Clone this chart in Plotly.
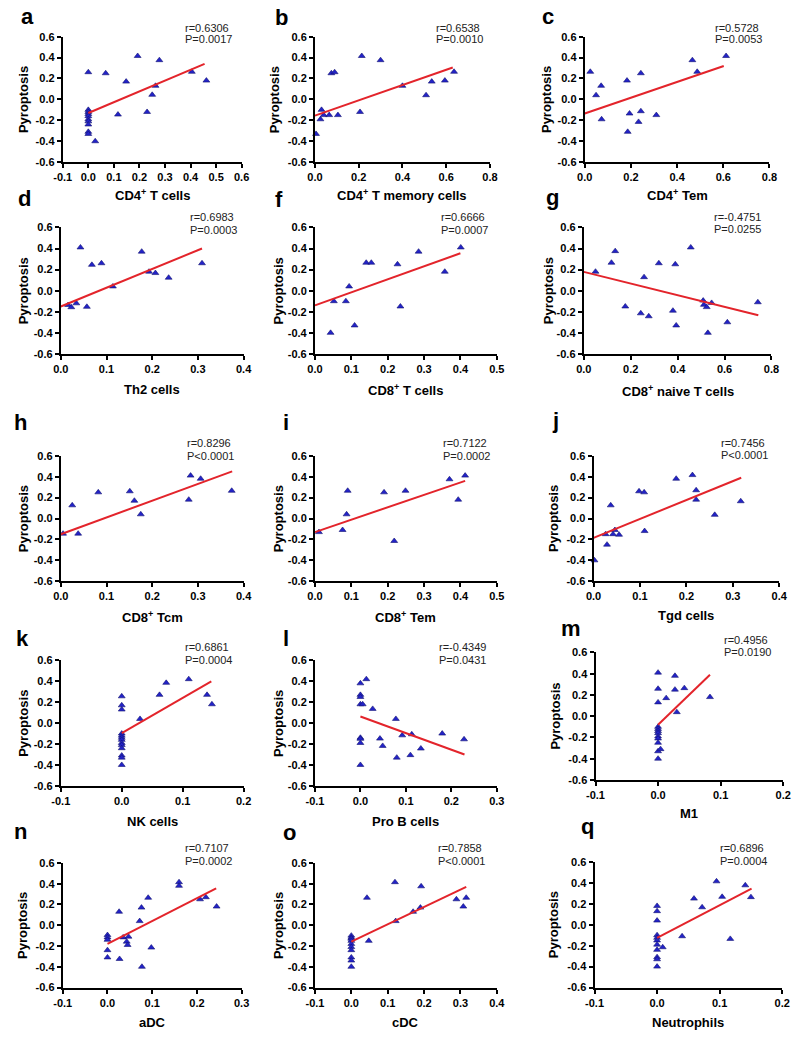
import plotly.graph_objects as go

W, H = 800, 1038
FONT = "Liberation Sans, Arial, sans-serif"
BLUE = "#2323c8"
NAVY = "#121270"
RED = "#e3242b"

# ---------------- data ----------------
Y_TICKS = [-0.6, -0.4, -0.2, 0.0, 0.2, 0.4, 0.6]
Y_TICKTEXT = ["-0.6", "-0.4", "-0.2", "0.0", "0.2", "0.4", "0.6"]

XT_A = [-0.1, 0.0, 0.1, 0.2, 0.3, 0.4, 0.5, 0.6]
XL_A = ["-0.1", "0.0", "0.1", "0.2", "0.3", "0.4", "0.5", "0.6"]
XT_08 = [0.0, 0.2, 0.4, 0.6, 0.8]
XL_08 = ["0.0", "0.2", "0.4", "0.6", "0.8"]
XT_04 = [0.0, 0.1, 0.2, 0.3, 0.4]
XL_04 = ["0.0", "0.1", "0.2", "0.3", "0.4"]
XT_05 = [0.0, 0.1, 0.2, 0.3, 0.4, 0.5]
XL_05 = ["0.0", "0.1", "0.2", "0.3", "0.4", "0.5"]
XT_M02 = [-0.1, 0.0, 0.1, 0.2]
XL_M02 = ["-0.1", "0.0", "0.1", "0.2"]
XT_M03 = [-0.1, 0.0, 0.1, 0.2, 0.3]
XL_M03 = ["-0.1", "0.0", "0.1", "0.2", "0.3"]
XT_M04 = [-0.1, 0.0, 0.1, 0.2, 0.3, 0.4]
XL_M04 = ["-0.1", "0.0", "0.1", "0.2", "0.3", "0.4"]

a_x = [0, 0, 0, 0, 0, 0, 0, 0, 0, 0, 0.027, 0.068, 0.116, 0.148, 0.193, 0.23, 0.25, 0.263, 0.278, 0.405, 0.462]
a_y = [0.26, -0.10, -0.12, -0.14, -0.16, -0.19, -0.21, -0.24, -0.31, -0.33, -0.40, 0.25, -0.145, 0.17, 0.415, -0.12, 0.044, 0.13, 0.375, 0.264, 0.18]
a_fit_x = [0.0, 0.455]
a_fit_y = [-0.13, 0.34]

b_x = [0.005, 0.025, 0.03, 0.04, 0.065, 0.105, 0.075, 0.09, 0.206, 0.214, 0.30, 0.40, 0.508, 0.534, 0.594, 0.636]
b_y = [-0.33, -0.19, -0.10, -0.15, -0.15, -0.15, 0.25, 0.26, -0.12, 0.415, 0.375, 0.13, 0.04, 0.17, 0.18, 0.264]
b_fit_x = [0.0, 0.63]
b_fit_y = [-0.155, 0.305]

c_x = [0.024, 0.049, 0.071, 0.073, 0.183, 0.186, 0.194, 0.233, 0.243, 0.243, 0.31, 0.466, 0.487, 0.612]
c_y = [0.264, 0.04, 0.13, -0.19, 0.18, -0.31, -0.135, -0.215, -0.113, 0.25, -0.15, 0.375, 0.264, 0.415]
c_fit_x = [0.0, 0.602]
c_fit_y = [-0.135, 0.32]

d_x = [0.016, 0.023, 0.034, 0.043, 0.057, 0.068, 0.089, 0.114, 0.177, 0.193, 0.207, 0.236, 0.309]
d_y = [-0.136, -0.157, -0.12, 0.41, -0.153, 0.245, 0.26, 0.04, 0.37, 0.18, 0.167, 0.123, 0.26]
d_fit_x = [0.0, 0.309]
d_fit_y = [-0.15, 0.40]

f_x = [0.043, 0.052, 0.085, 0.094, 0.109, 0.141, 0.155, 0.227, 0.235, 0.285, 0.357, 0.401]
f_y = [-0.40, -0.10, -0.10, 0.04, -0.33, 0.265, 0.265, 0.25, -0.15, 0.37, 0.18, 0.41]
f_fit_x = [0.0, 0.40]
f_fit_y = [-0.14, 0.355]

g_x = [0.05, 0.118, 0.134, 0.177, 0.243, 0.257, 0.277, 0.32, 0.38, 0.39, 0.394, 0.456, 0.509, 0.512, 0.524, 0.545, 0.529, 0.612, 0.742]
g_y = [0.18, 0.265, 0.375, -0.15, -0.215, 0.128, -0.243, 0.26, -0.19, 0.25, -0.33, 0.41, -0.094, -0.134, -0.156, -0.116, -0.40, -0.30, -0.11]
g_fit_x = [0.0, 0.744]
g_fit_y = [0.178, -0.234]

h_x = [0.005, 0.038, 0.025, 0.082, 0.151, 0.161, 0.175, 0.28, 0.284, 0.306, 0.374]
h_y = [-0.145, -0.145, 0.126, 0.25, 0.26, 0.17, 0.04, 0.18, 0.41, 0.38, 0.265]
h_fit_x = [0.0, 0.375]
h_fit_y = [-0.15, 0.45]

i_x = [0.011, 0.076, 0.087, 0.09, 0.19, 0.218, 0.249, 0.37, 0.394, 0.413]
i_y = [-0.13, -0.11, 0.04, 0.265, 0.25, -0.215, 0.265, 0.375, 0.18, 0.41]
i_fit_x = [0.0, 0.413]
i_fit_y = [-0.13, 0.36]

j_x = [0.002, 0.026, 0.029, 0.042, 0.046, 0.055, 0.11, 0.037, 0.098, 0.109, 0.178, 0.213, 0.221, 0.221, 0.261, 0.317]
j_y = [-0.40, -0.15, -0.25, -0.15, -0.11, -0.155, -0.12, 0.126, 0.26, 0.25, 0.38, 0.415, 0.27, 0.18, 0.035, 0.165]
j_fit_x = [0.0, 0.318]
j_fit_y = [-0.185, 0.39]

k_x = [0, 0, 0, 0, 0, 0, 0, 0, 0, 0, 0, 0, 0, 0.03, 0.062, 0.073, 0.11, 0.14, 0.148]
k_y = [0.256, 0.17, 0.13, -0.10, -0.12, -0.14, -0.16, -0.19, -0.21, -0.24, -0.31, -0.33, -0.40, 0.04, 0.27, 0.385, 0.42, 0.27, 0.18]
k_fit_x = [0.0, 0.147]
k_fit_y = [-0.095, 0.40]

l_x = [0, 0, 0, 0, 0.005, 0.013, 0.027, 0, 0, 0, 0, 0.043, 0.049, 0.078, 0.08, 0.092, 0.113, 0.11, 0.133, 0.18, 0.228]
l_y = [0.38, 0.27, 0.25, 0.18, 0.18, 0.42, 0.136, -0.14, -0.15, -0.19, -0.40, -0.148, -0.218, 0.04, -0.33, -0.117, -0.107, -0.306, -0.243, -0.10, -0.155]
l_fit_x = [0.0, 0.229]
l_fit_y = [0.063, -0.30]

m_x = [0, 0.027, 0, 0, 0.013, 0.027, 0.042, 0.03, 0.083, 0, 0, 0, 0, 0, 0, 0, 0, 0, 0.004]
m_y = [0.41, 0.38, 0.258, 0.13, 0.17, 0.25, 0.264, 0.038, 0.18, -0.10, -0.12, -0.14, -0.16, -0.19, -0.21, -0.25, -0.33, -0.40, -0.31]
m_fit_x = [0.0, 0.083]
m_fit_y = [-0.08, 0.39]

n_x = [0, 0, 0, 0, 0, 0.026, 0.027, 0.035, 0.043, 0.045, 0.047, 0.072, 0.076, 0.077, 0.091, 0.098, 0.16, 0.16, 0.207, 0.22, 0.244]
n_y = [-0.095, -0.117, -0.14, -0.24, -0.31, 0.13, -0.325, -0.117, -0.158, -0.19, -0.11, 0.04, 0.17, -0.40, 0.265, -0.215, 0.415, 0.38, 0.25, 0.27, 0.18]
n_fit_x = [0.0, 0.243]
n_fit_y = [-0.18, 0.355]

o_x = [0, 0, 0, 0, 0, 0, 0, 0, 0, 0, 0.043, 0.048, 0.12, 0.122, 0.17, 0.19, 0.192, 0.289, 0.308, 0.316]
o_y = [-0.10, -0.12, -0.13, -0.15, -0.18, -0.21, -0.24, -0.31, -0.34, -0.40, 0.265, -0.15, 0.415, 0.04, 0.13, 0.17, 0.375, 0.25, 0.18, 0.265]
o_fit_x = [0.0, 0.316]
o_fit_y = [-0.158, 0.37]

q_x = [0, 0, 0, 0, 0, 0, 0, 0, 0, 0, 0, 0.009, 0.04, 0.059, 0.072, 0.095, 0.104, 0.117, 0.141, 0.15]
q_y = [0.18, 0.13, 0.04, -0.10, -0.125, -0.15, -0.19, -0.24, -0.31, -0.33, -0.40, -0.215, -0.11, 0.25, 0.167, 0.415, 0.267, -0.135, 0.377, 0.264]
q_fit_x = [0.0, 0.151]
q_fit_y = [-0.125, 0.345]

letters = ["a", "b", "c", "d", "f", "g", "h", "i", "j", "k", "l", "m", "n", "o", "q"]
r_text = ["r=0.6306", "r=0.6538", "r=0.5728", "r=0.6983", "r=0.6666", "r=-0.4751", "r=0.8296", "r=0.7122",
          "r=0.7456", "r=0.6861", "r=-0.4349", "r=0.4956", "r=0.7107", "r=0.7858", "r=0.6896"]
p_text = ["P=0.0017", "P=0.0010", "P=0.0053", "P=0.0003", "P=0.0007", "P=0.0255", "P<0.0001", "P=0.0002",
          "P<0.0001", "P=0.0004", "P=0.0431", "P=0.0190", "P=0.0002", "P<0.0001", "P=0.0004"]
x_titles = ["CD4<sup>+</sup> T cells", "CD4<sup>+</sup> T memory cells", "CD4<sup>+</sup> Tem", "Th2 cells",
            "CD8<sup>+</sup> T cells", "CD8<sup>+</sup> naive T cells", "CD8<sup>+</sup> Tcm", "CD8<sup>+</sup> Tem",
            "Tgd cells", "NK cells", "Pro B cells", "M1", "aDC", "cDC", "Neutrophils"]
y_title = "Pyroptosis"

series = [
    (a_x, a_y, a_fit_x, a_fit_y, XT_A, XL_A),
    (b_x, b_y, b_fit_x, b_fit_y, XT_08, XL_08),
    (c_x, c_y, c_fit_x, c_fit_y, XT_08, XL_08),
    (d_x, d_y, d_fit_x, d_fit_y, XT_04, XL_04),
    (f_x, f_y, f_fit_x, f_fit_y, XT_05, XL_05),
    (g_x, g_y, g_fit_x, g_fit_y, XT_08, XL_08),
    (h_x, h_y, h_fit_x, h_fit_y, XT_04, XL_04),
    (i_x, i_y, i_fit_x, i_fit_y, XT_05, XL_05),
    (j_x, j_y, j_fit_x, j_fit_y, XT_04, XL_04),
    (k_x, k_y, k_fit_x, k_fit_y, XT_M02, XL_M02),
    (l_x, l_y, l_fit_x, l_fit_y, XT_M03, XL_M03),
    (m_x, m_y, m_fit_x, m_fit_y, XT_M02, XL_M02),
    (n_x, n_y, n_fit_x, n_fit_y, XT_M03, XL_M03),
    (o_x, o_y, o_fit_x, o_fit_y, XT_M04, XL_M04),
    (q_x, q_y, q_fit_x, q_fit_y, XT_M02, XL_M02),
]

# ---------------- layout (pixel positions) ----------------
# plot area boxes: (left, right, top, bottom)
boxes = [
    (55, 238, 31, 158), (313, 492, 31, 158), (589, 778, 31, 158),
    (53, 240, 224, 352), (313, 499, 224, 352), (588, 780, 224, 352),
    (53, 240, 455, 582), (313, 499, 455, 582), (598, 788, 455, 582),
    (53, 240, 662, 789), (313, 499, 662, 789), (600, 792, 654, 783),
    (55, 238, 867, 993), (313, 499, 867, 993), (599, 791, 866, 993),
]
title_y = [191, 191, 191, 388, 388, 389, 618, 618, 617, 825, 825, 817, 1028, 1028, 1028]
ylab_x = [15, 272, 550, 15, 276, 552, 15, 276, 557, 14, 275, 559, 14, 275, 557]
stat_pos = [(178, 22, 33), (435, 22, 33), (720, 22, 33),
            (183, 213, 227), (440, 213, 227), (719, 213, 226),
            (180, 442, 455), (442, 442, 455), (726, 442, 454),
            (178, 648, 662), (438, 648, 662), (729, 641, 654),
            (178, 852, 865), (437, 852, 865), (725, 852, 865)]
letter_pos = [(10, 12.5), (270, 13.5), (543, 12.5),
              (7, 197), (270, 197.5), (547, 195.5),
              (3, 423), (278, 423), (553, 421),
              (5, 642), (278, 642), (563, 631.5),
              (3, 837.5), (278, 838.5), (583, 832.5)]


def px(x):
    return x / W


def py(y):
    return 1 - y / H


def bold(labels):
    return ["<b>" + t + "</b>" for t in labels]


fig = go.Figure()
layout = dict(width=W, height=H, margin=dict(l=0, r=0, t=0, b=0),
              paper_bgcolor="white", plot_bgcolor="white", showlegend=False)
annotations = []

axis_common = dict(showline=True, linecolor="black", linewidth=2, ticks="outside", ticklen=4,
                   tickwidth=2, tickcolor="black", showgrid=False, zeroline=False, fixedrange=True,
                   tickfont=dict(family=FONT, size=11, color="black"))

for idx, (sx, sy, fx, fy, xt, xl) in enumerate(series):
    n = idx + 1
    xa = "x" if n == 1 else f"x{n}"
    ya = "y" if n == 1 else f"y{n}"
    xk = "xaxis" if n == 1 else f"xaxis{n}"
    yk = "yaxis" if n == 1 else f"yaxis{n}"
    x0, x1, y0, y1 = boxes[idx]
    layout[xk] = dict(domain=[px(x0), px(x1)], range=[xt[0], xt[-1]], anchor=ya,
                      tickmode="array", tickvals=xt, ticktext=bold(xl), **axis_common)
    layout[yk] = dict(domain=[py(y1), py(y0)], range=[Y_TICKS[0], Y_TICKS[-1]], anchor=xa,
                      tickmode="array", tickvals=Y_TICKS, ticktext=bold(Y_TICKTEXT), **axis_common)

    fig.add_trace(go.Scatter(x=sx, y=sy, mode="markers", xaxis=xa, yaxis=ya, cliponaxis=False,
                             marker=dict(symbol="triangle-up", size=6, color=BLUE,
                                         line=dict(color=NAVY, width=0.6)),
                             hoverinfo="skip"))
    fig.add_trace(go.Scatter(x=fx, y=fy, mode="lines", xaxis=xa, yaxis=ya, cliponaxis=False,
                             line=dict(color=RED, width=2), hoverinfo="skip"))

    # x-axis title
    annotations.append(dict(text="<b>" + x_titles[idx] + "</b>", x=px((x0 + x1) / 2), y=py(title_y[idx]),
                            xref="paper", yref="paper", xanchor="center", yanchor="middle",
                            showarrow=False,
                            font=dict(family=FONT, size=13, color="black")))
    # y-axis title
    annotations.append(dict(text="<b>" + y_title + "</b>", x=px(ylab_x[idx]), y=py((y0 + y1) / 2),
                            xref="paper", yref="paper", xanchor="center", yanchor="middle",
                            textangle=-90, showarrow=False,
                            font=dict(family=FONT, size=13, color="black")))
    # statistics
    sxp, ry, pyy = stat_pos[idx]
    annotations.append(dict(text=r_text[idx], x=px(sxp), y=py(ry), xref="paper", yref="paper",
                            xanchor="left", yanchor="middle", showarrow=False,
                            font=dict(family=FONT, size=11, color="#222222")))
    annotations.append(dict(text=p_text[idx], x=px(sxp), y=py(pyy), xref="paper", yref="paper",
                            xanchor="left", yanchor="middle", showarrow=False,
                            font=dict(family=FONT, size=11, color="#222222")))
    # panel letter
    lx, lyc = letter_pos[idx]
    annotations.append(dict(text="<b>" + letters[idx] + "</b>", x=px(lx), y=py(lyc - 2),
                            xref="paper", yref="paper",
                            xanchor="left", yanchor="middle", showarrow=False,
                            font=dict(family=FONT, size=22, color="black")))

layout["annotations"] = annotations
fig.update_layout(**layout)
fig.write_html("out.html", config={"displayModeBar": False},
               post_script="document.body.style.margin='0px';")
